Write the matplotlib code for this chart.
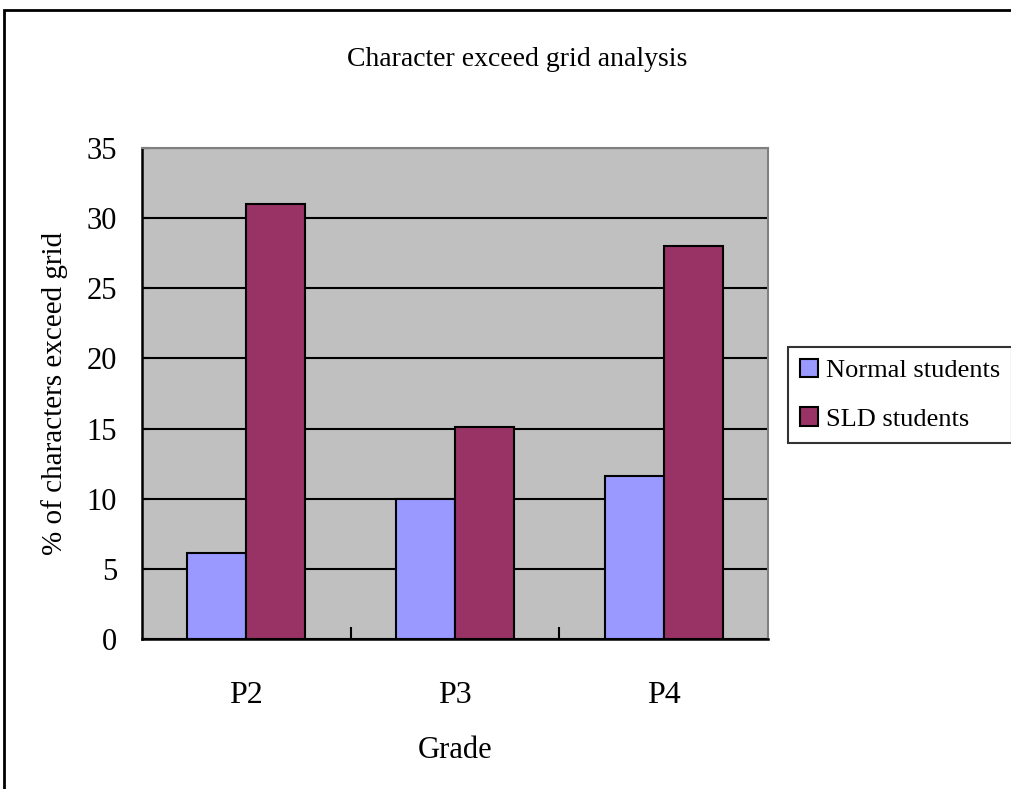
import numpy as np
import matplotlib.pyplot as plt
from matplotlib.patches import Rectangle

grades = ["P2", "P3", "P4"]
normal = [6.1, 10.0, 11.6]
sld = [31.0, 15.1, 28.0]
series_names = ["Normal students", "SLD students"]

plt.rcParams["font.family"] = ["Liberation Serif", "DejaVu Serif"]

fig = plt.figure(figsize=(10.11, 7.89), dpi=100)
ax = fig.add_axes([142 / 1011, 1 - 639 / 789, 626 / 1011, 491 / 789])
ax.set_facecolor("#c0c0c0")

x = np.arange(len(grades))
w = 0.283
ax.bar(x - w / 2, normal, w, color="#9999ff", edgecolor="black", linewidth=1.5,
       label=series_names[0], zorder=3)
ax.bar(x + w / 2, sld, w, color="#993366", edgecolor="black", linewidth=1.5,
       label=series_names[1], zorder=3)

ax.set_xlim(-0.5, 2.5)
ax.set_ylim(0, 35)
ax.set_yticks(range(0, 36, 5))
ax.yaxis.grid(True, color="black", linewidth=1.5, zorder=1)
ax.set_axisbelow(True)

# category labels centred, tick marks between categories
ax.set_xticks([0.5, 1.5])
ax.set_xticklabels([])
ax.set_xticks(x, minor=True)
ax.set_xticklabels(grades, minor=True, fontsize=23)
ax.tick_params(axis="x", which="major", direction="in", length=9, width=1.5)
ax.tick_params(axis="x", which="minor", length=0, pad=30)
ax.tick_params(axis="y", direction="in", length=5, width=1.5, labelsize=22, pad=18)

for s in ["left", "bottom"]:
    ax.spines[s].set_color("black")
    ax.spines[s].set_linewidth(1.8)
for s in ["top", "right"]:
    ax.spines[s].set_color("#808080")
    ax.spines[s].set_linewidth(1.5)

ax.set_ylabel("% of characters exceed grid", fontsize=21, labelpad=13)
ax.set_xlabel("Grade", fontsize=22, labelpad=19)
fig.text(517 / 1011, 1 - 60 / 789, "Character exceed grid analysis",
         ha="center", va="center", fontsize=20)

leg = fig.legend(loc="upper left", bbox_to_anchor=(788 / 1011, 1 - 347 / 789),
                 fontsize=19, frameon=True, fancybox=False, handlelength=0.7,
                 handleheight=0.7, handletextpad=0.3, borderpad=0.45,
                 labelspacing=0.95, borderaxespad=0)
leg.get_frame().set_edgecolor("black")
leg.get_frame().set_linewidth(1.5)

# outer chart border
fig.patches.append(Rectangle((4 / 1011, -0.5), 2, 0.5 + 1 - 10 / 789,
                             transform=fig.transFigure, fill=False,
                             edgecolor="black", linewidth=2))

fig.savefig("out.png", dpi=100)
